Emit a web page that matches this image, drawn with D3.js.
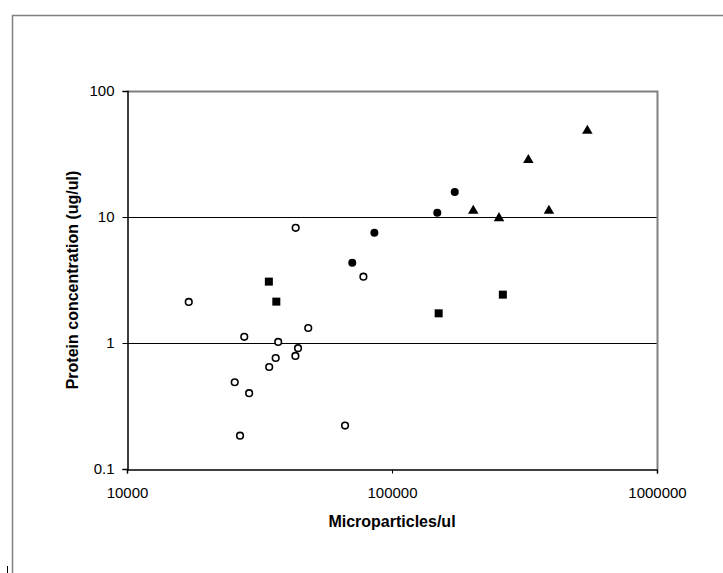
<!DOCTYPE html>
<html>
<head>
<meta charset="utf-8">
<script src="https://cdn.jsdelivr.net/npm/d3@7"></script>
<style>
  body { margin: 0; background: #fff; }
  svg { display: block; font-family: Arial, "Liberation Sans", sans-serif; }
  .tick text { font-size: 15px; fill: #000; }
  .axis-title { font-size: 16px; font-weight: bold; fill: #000; }
</style>
</head>
<body>
<svg width="723" height="573"></svg>
<script>
// data: [microparticles/ul, protein ug/ul]
const openCircles = [
  [17100, 2.12], [43300, 8.2], [78000, 3.36], [48300, 1.315], [27700, 1.12],
  [37200, 1.02], [44200, 0.91], [43200, 0.79], [36400, 0.76], [34400, 0.645],
  [25500, 0.488], [28900, 0.40], [66500, 0.221], [26700, 0.184]
];
const filledCircles = [
  [70800, 4.34], [85800, 7.5], [148200, 10.8], [172500, 15.8]
];
const squares = [
  [34300, 3.07], [36600, 2.13], [150000, 1.72], [262000, 2.42]
];
const triangles = [
  [202600, 11.2], [253400, 9.8], [327000, 28.3], [391000, 11.2], [546000, 48.4]
];
const xTicks = [10000, 100000, 1000000];
const yTicks = [0.1, 1, 10, 100];

const svg = d3.select("svg");

// outer chart frame (runs past the window on right and bottom)
svg.append("rect")
  .attr("x", 12.5).attr("y", 15.5)
  .attr("width", 800).attr("height", 700)
  .attr("fill", "none").attr("stroke", "#808080").attr("stroke-width", 1.5);

svg.append("line")
  .attr("x1", 7.5).attr("x2", 7.5).attr("y1", 566).attr("y2", 573)
  .attr("stroke", "#000");

const x = d3.scaleLog().domain([1e4, 1e6]).range([127, 657]);
const y = d3.scaleLog().domain([0.1, 100]).range([469, 91]);

// gridlines
svg.append("g").selectAll("line")
  .data([1, 10])
  .enter().append("line")
  .attr("x1", x(1e4)).attr("x2", x(1e6))
  .attr("y1", d => Math.round(y(d)) + 0.5).attr("y2", d => Math.round(y(d)) + 0.5)
  .attr("stroke", "#000");

// plot border top / right
svg.append("path")
  .attr("d", `M${x(1e4)},${y(100) + 0.5}H${x(1e6) + 0.5}V${y(0.1)}`)
  .attr("fill", "none").attr("stroke", "#808080").attr("stroke-width", 2);

const fmt = d => d < 1 ? String(d) : d3.format("d")(d);

svg.append("g")
  .attr("transform", `translate(${x(1e4) + 0.5},0)`)
  .call(d3.axisLeft(y).tickValues(yTicks).tickFormat(fmt).tickSizeOuter(0).tickSize(5).tickPadding(8));

svg.append("g")
  .attr("transform", `translate(0,${y(0.1) + 0.5})`)
  .call(d3.axisBottom(x).tickValues(xTicks).tickFormat(fmt).tickSizeOuter(0).tickSize(4).tickPadding(14));

svg.selectAll(".domain").attr("stroke", "#000").attr("stroke-width", 1.5);
svg.selectAll(".tick line").attr("stroke", "#000");

// axis titles
svg.append("text")
  .attr("class", "axis-title")
  .attr("transform", `translate(78,${(y(100) + y(0.1)) / 2}) rotate(-90)`)
  .attr("text-anchor", "middle")
  .text("Protein concentration (ug/ul)");

svg.append("text")
  .attr("class", "axis-title")
  .attr("x", (x(1e4) + x(1e6)) / 2).attr("y", 527)
  .attr("text-anchor", "middle")
  .text("Microparticles/ul");

// markers
const marks = svg.append("g");

marks.selectAll(".open").data(openCircles)
  .enter().append("circle")
  .attr("cx", d => x(d[0])).attr("cy", d => y(d[1]))
  .attr("r", 3.3)
  .attr("fill", "#fff").attr("stroke", "#000").attr("stroke-width", 1.6);

marks.selectAll(".filled").data(filledCircles)
  .enter().append("circle")
  .attr("cx", d => x(d[0])).attr("cy", d => y(d[1]))
  .attr("r", 4)
  .attr("fill", "#000");

marks.selectAll(".sq").data(squares)
  .enter().append("rect")
  .attr("x", d => x(d[0]) - 4).attr("y", d => y(d[1]) - 4)
  .attr("width", 8).attr("height", 8)
  .attr("fill", "#000");

const tri = d3.symbol().type(d3.symbolTriangle).size(48);
marks.selectAll(".tri").data(triangles)
  .enter().append("path")
  .attr("d", tri)
  .attr("transform", d => `translate(${x(d[0])},${y(d[1])})`)
  .attr("fill", "#000");
</script>
</body>
</html>
